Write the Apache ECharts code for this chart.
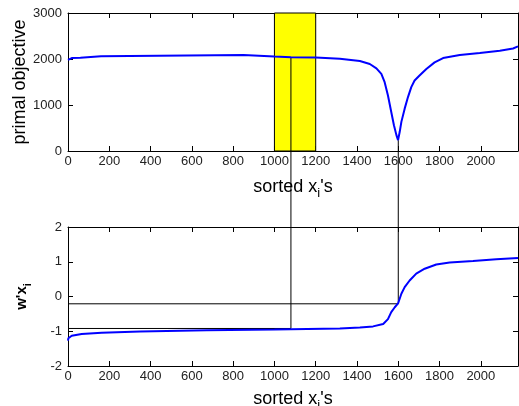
<!DOCTYPE html>
<html>
<head>
<meta charset="utf-8">
<script src="https://cdn.jsdelivr.net/npm/echarts@6/dist/echarts.min.js"></script>
<style>
html, body { margin: 0; padding: 0; background: #fff; }
#chart { width: 519px; height: 406px; }
</style>
</head>
<body>
<div id="chart"></div>
<script>
// top panel: primal objective vs sorted x_i's
const objX = [0, 5, 18, 60, 66, 160, 165, 850, 855, 1000, 1080, 1200, 1317, 1414, 1462, 1494, 1518, 1534, 1550, 1566, 1579, 1591, 1599, 1607, 1615, 1631, 1647, 1663, 1679, 1703, 1736, 1776, 1817, 1898, 1995, 2092, 2156, 2180];
const objY = [1980, 2000, 2020, 2025, 2055, 2060, 2085, 2085, 2060, 2055, 2040, 2035, 2005, 1956, 1891, 1798, 1675, 1496, 1208, 848, 561, 345, 237, 417, 633, 921, 1172, 1388, 1532, 1640, 1784, 1927, 2021, 2086, 2129, 2179, 2229, 2275];

// bottom panel: w'x_i vs sorted x_i's
const projX = [0, 2, 8, 18, 66, 163, 349, 673, 1000, 1080, 1317, 1414, 1478, 1527, 1550, 1566, 1583, 1599, 1615, 1631, 1655, 1687, 1728, 1784, 1849, 1962, 2075, 2180];
const projY = [-1.27, -1.2, -1.16, -1.13, -1.08, -1.04, -1.01, -0.97, -0.95, -0.94, -0.92, -0.89, -0.86, -0.79, -0.65, -0.45, -0.31, -0.2, 0.08, 0.27, 0.46, 0.66, 0.8, 0.92, 0.98, 1.02, 1.07, 1.11];

const xMax = 2180;
const bandRange = [1000, 1200];
const pickX = [1080, 1600];
const pickObj = [2040, 237];
const pickProj = [-0.92, -0.21];

const blue = '#0000ff';
const font = 'Liberation Sans, Arial, sans-serif';

function zip(xs, ys) {
    return xs.map((x, i) => [x, ys[i]]);
}

function xAx(gridIndex, pos, showLabels, name) {
    return {
        type: 'value', gridIndex: gridIndex, position: pos,
        min: 0, max: xMax, interval: 200,
        axisLine: { show: true, onZero: false, lineStyle: { color: '#000', width: 1 } },
        axisTick: { show: true, inside: true, length: 5, lineStyle: { color: '#000' } },
        axisLabel: {
            show: showLabels, showMaxLabel: false, margin: 4, fontSize: 13, color: '#222', fontFamily: font,
            formatter: v => String(v)
        },
        splitLine: { show: false },
        name: name || '',
        nameLocation: 'middle',
        nameGap: gridIndex === 0 ? 24 : 21,
        nameMoveOverlap: false,
        nameTextStyle: {
            rich: {
                t: { fontSize: 18, fontFamily: font, color: '#000', lineHeight: 20, verticalAlign: 'middle' },
                s: { fontSize: 13, fontFamily: font, color: '#000', lineHeight: 25, verticalAlign: 'bottom' }
            }
        }
    };
}

function yAx(gridIndex, pos, min, max, interval, showLabels, name, gap, size) {
    return {
        type: 'value', gridIndex: gridIndex, position: pos,
        min: min, max: max, interval: interval,
        axisLine: { show: true, onZero: false, lineStyle: { color: '#000', width: 1 } },
        axisTick: { show: true, inside: true, length: 5, lineStyle: { color: '#000' } },
        axisLabel: {
            show: showLabels, margin: 6, fontSize: 13, color: '#222', fontFamily: font,
            formatter: v => String(v)
        },
        splitLine: { show: false },
        name: name || '',
        nameLocation: 'middle',
        nameGap: gap || 0,
        nameRotate: 90,
        nameMoveOverlap: false,
        nameTextStyle: {
            rich: {
                t: { fontSize: size, fontFamily: font, fontWeight: size < 17 ? 'bold' : 'normal', color: '#000', lineHeight: size + 2, verticalAlign: 'middle' },
                s: { fontSize: 11, fontFamily: font, fontWeight: 'bold', color: '#000', lineHeight: size + 7, verticalAlign: 'bottom' }
            }
        }
    };
}

let myChart = echarts.init(document.getElementById('chart'), null, { renderer: 'canvas' });

let option = {
    animation: false,
    backgroundColor: '#fff',
    grid: [
        { left: 68, right: 1, top: 13, height: 138, outerBoundsMode: 'none', containLabel: false },
        { left: 68, right: 1, top: 227, height: 139, outerBoundsMode: 'none', containLabel: false }
    ],
    xAxis: [
        xAx(0, 'bottom', true, "{t|sorted x}{s|i}{t|'s}"),
        xAx(0, 'top', false),
        xAx(1, 'bottom', true, "{t|sorted x}{s|i}{t|'s}"),
        xAx(1, 'top', false)
    ],
    yAxis: [
        yAx(0, 'left', 0, 3000, 1000, true, '{t|primal objective}', 38, 18),
        yAx(0, 'right', 0, 3000, 1000, false),
        yAx(1, 'left', -2, 2, 1, true, "{t|w'x}{s|i}", 35, 15),
        yAx(1, 'right', -2, 2, 1, false)
    ],
    series: [
        {
            // yellow band
            type: 'line', xAxisIndex: 0, yAxisIndex: 0, data: [], z: 1,
            markArea: {
                silent: true,
                itemStyle: { color: '#ffff00', borderColor: '#000', borderWidth: 1 },
                data: [[{ xAxis: bandRange[0] }, { xAxis: bandRange[1] }]]
            }
        },
        {
            type: 'line', xAxisIndex: 0, yAxisIndex: 0, z: 4,
            data: zip(objX, objY), symbol: 'none',
            lineStyle: { color: blue, width: 2 }
        },
        {
            type: 'line', xAxisIndex: 2, yAxisIndex: 2, z: 3,
            data: [[0, pickProj[0]], [pickX[0], pickProj[0]]], symbol: 'none',
            lineStyle: { color: '#000', width: 1 }
        },
        {
            type: 'line', xAxisIndex: 2, yAxisIndex: 2, z: 3,
            data: [[0, pickProj[1]], [pickX[1], pickProj[1]]], symbol: 'none',
            lineStyle: { color: '#000', width: 1 }
        },
        {
            type: 'line', xAxisIndex: 2, yAxisIndex: 2, z: 4,
            data: zip(projX, projY), symbol: 'none',
            lineStyle: { color: blue, width: 2 }
        }
    ]
};

myChart.setOption(option);

// vertical connectors from the top curve down to the bottom panel
let connectors = pickX.map((x, k) => {
    let a = myChart.convertToPixel({ xAxisIndex: 0, yAxisIndex: 0 }, [x, pickObj[k]]);
    let b = myChart.convertToPixel({ xAxisIndex: 2, yAxisIndex: 2 }, [x, pickProj[k]]);
    return {
        type: 'line', z: 3,
        shape: { x1: a[0], y1: a[1], x2: b[0], y2: b[1] },
        style: { stroke: '#000', lineWidth: 1 }
    };
});
myChart.setOption({ graphic: connectors });
</script>
</body>
</html>
